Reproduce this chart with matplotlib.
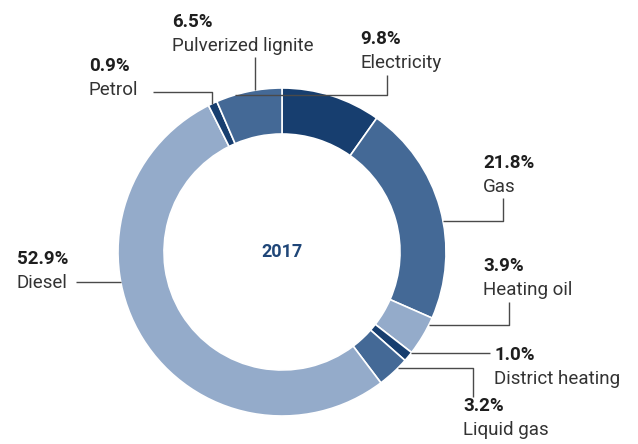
import numpy as np
import matplotlib
matplotlib.use('Agg')
import matplotlib.pyplot as plt

# data, clockwise from 12 o'clock
categories = ['Electricity', 'Gas', 'Heating oil', 'District heating',
              'Liquid gas', 'Diesel', 'Petrol', 'Pulverized lignite']
shares = [9.8, 21.8, 3.9, 1.0, 3.2, 52.9, 0.9, 6.5]
year = '2017'

dark, mid, light = '#173e6f', '#446996', '#94abca'
colors = [dark, mid, light, dark, mid, light, dark, mid]

plt.rcParams['font.family'] = ['Roboto', 'DejaVu Sans']

fig = plt.figure(figsize=(6.38, 4.44), dpi=100)
ax = fig.add_axes([0, 0, 1, 1])

# axes in pixel units, y pointing down
cx, cy, R, W = 282, 252, 164, 46
ax.pie(shares, colors=colors, radius=R, center=(cx, cy),
       startangle=-90, counterclock=True,
       wedgeprops=dict(width=W, edgecolor='white', linewidth=1.2))
ax.set_xlim(0, 638)
ax.set_ylim(444, 0)
ax.set_aspect('equal')
ax.axis('off')

ax.text(cx, cy, year, ha='center', va='center', fontsize=13,
        fontweight='bold', color='#1f4678')


def ring_x(y, side):
    return cx + side * np.sqrt(R**2 - (y - cy)**2)


def ring_y(x):
    return cy - np.sqrt(R**2 - (x - cx)**2)


# label layout: (text x, value baseline, leader path)
layout = {
    'Electricity': (360, 44, [(387, 75), (387, 95), (ring_x(95, -1), 95)]),
    'Gas': (483, 168, [(503, 198), (503, 221), (ring_x(221, 1), 221)]),
    'Heating oil': (483, 271, [(509, 302), (509, 325), (ring_x(325, 1), 325)]),
    'District heating': (494, 360, [(490, 353), (ring_x(353, 1), 353)]),
    'Liquid gas': (463, 411, [(473, 397), (473, 368), (ring_x(368, 1), 368)]),
    'Diesel': (17, 264, [(76, 282), (ring_x(282, -1), 282)]),
    'Petrol': (89, 71, [(153, 92), (212, 92), (212, ring_y(212))]),
    'Pulverized lignite': (172, 27, [(255, 57), (255, ring_y(255))]),
}

for name, share in zip(categories, shares):
    tx, ty, path = layout[name]
    ax.text(tx, ty, f'{share:.1f}%', ha='left', va='baseline',
            fontsize=13.5, fontweight='bold', color='#1e1e1e')
    ax.text(tx, ty + 24, name, ha='left', va='baseline',
            fontsize=13.5, color='#333333')
    xs, ys = zip(*path)
    ax.plot(xs, ys, color='#4a4a4a', linewidth=1.0, solid_capstyle='butt')

fig.savefig('out.png', dpi=100)
